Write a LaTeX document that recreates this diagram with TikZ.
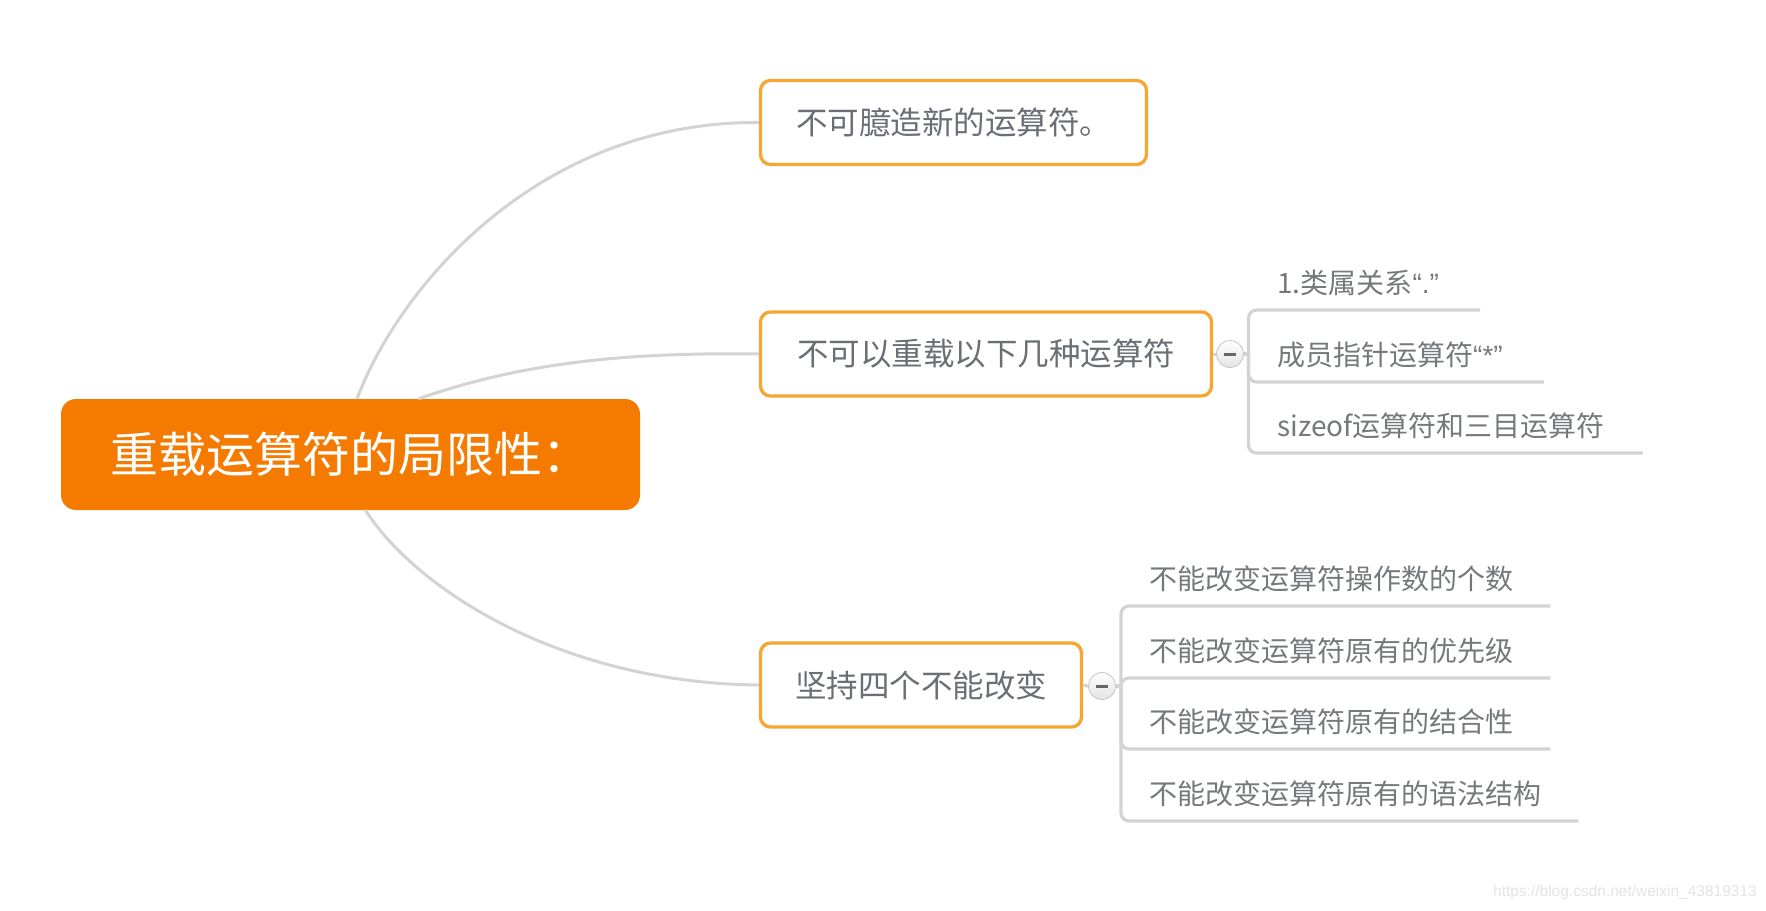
\documentclass[tikz,border=0pt]{standalone}
\usepackage{fontspec}
\newfontfamily\cjk{Noto Sans CJK SC}
\newfontfamily\wmfont{Liberation Sans}
\definecolor{rootorange}{HTML}{F47A00}
\definecolor{boxorange}{HTML}{F5A633}
\definecolor{maintext}{HTML}{6B6F75}
\definecolor{subtext}{HTML}{76797C}
\definecolor{linegray}{HTML}{D1D3D4}
\definecolor{wmgray}{HTML}{E4E4E4}
\begin{document}
\begin{tikzpicture}[x=1pt,y=-1pt,
  rootbox/.style={fill=rootorange, rounded corners=15pt, minimum width=579pt, minimum height=111pt, inner sep=0pt, text=white, font=\cjk\fontsize{48}{52}\selectfont},
  topicbox/.style={draw=boxorange, line width=3.3pt, rounded corners=10pt, fill=white, minimum height=84pt, inner sep=0pt, text=maintext, font=\cjk\fontsize{31.5}{36}\selectfont},
  subitem/.style={anchor=west, inner sep=0pt, text=subtext, font=\cjk\fontsize{28}{32}\selectfont},
  link/.style={draw=linegray, line width=3pt},
  branch/.style={draw=linegray, line width=3.2pt, rounded corners=8pt},
  collapse/.style={circle, draw=gray!45, line width=0.8pt, top color=white, bottom color=gray!22, minimum size=27pt, inner sep=0pt},
  minusbar/.style={draw=black!60, line width=3pt},
]
\useasboundingbox (0,0) rectangle (1766,910);
\fill[white] (0,0) rectangle (1766,910);

% main nodes
\node[rootbox] (root) at (350.5,454.5) {重载运算符的局限性：};
\node[topicbox, minimum width=386pt] (n1) at (953.5,122.5) {不可臆造新的运算符。};
\node[topicbox, minimum width=451pt] (n2) at (986,354) {不可以重载以下几种运算符};
\node[topicbox, minimum width=321pt] (n3) at (921,685) {坚持四个不能改变};

% curves from root
\draw[link] ([xshift=6.5pt]root.north) .. controls (400,285) and (540,121) .. (n1.west);
\draw[link] ([xshift=68pt]root.north) .. controls (518,364) and (620,352) .. (n2.west);
\draw[link] ([xshift=15pt]root.south) .. controls (415,588) and (560,683) .. (n3.west);

% node 2 children
\node[collapse] (c2) at (1230,354) {};
\draw[minusbar] ([xshift=-6pt]c2.center) -- ([xshift=6pt]c2.center);
\draw[link] (n2.east) -- (c2.west);
\coordinate (k2) at (1248.5,354);
\draw[branch] (c2.east) -- (k2);
\node[subitem] (a1) at (1277,282.5) {1.类属关系{\wmfont“.”}};
\node[subitem] (a2) at (1277,354.5) {成员指针运算符{\wmfont“*”}};
\node[subitem] (a3) at (1277,425.5) {sizeof运算符和三目运算符};
\draw[branch] (k2) |- ([shift={(41pt,-27.5pt)}]a1.east);
\draw[branch] (k2) |- ([shift={(41pt,-27.5pt)}]a2.east);
\draw[branch] (k2) |- ([shift={(38pt,-27.5pt)}]a3.east);

% node 3 children
\node[collapse] (c3) at (1102,686) {};
\draw[minusbar] ([xshift=-6pt]c3.center) -- ([xshift=6pt]c3.center);
\draw[link] (n3.east) -- (c3.west);
\coordinate (k3) at (1121,686);
\draw[branch] (c3.east) -- (k3);
\node[subitem] (b1) at (1149,578.5) {不能改变运算符操作数的个数};
\node[subitem] (b2) at (1149,650.5) {不能改变运算符原有的优先级};
\node[subitem] (b3) at (1149,721.5) {不能改变运算符原有的结合性};
\node[subitem] (b4) at (1149,793.5) {不能改变运算符原有的语法结构};
\draw[branch] (k3) |- ([shift={(37pt,-27.5pt)}]b1.east);
\draw[branch] (k3) |- ([shift={(37pt,-27.5pt)}]b2.east);
\draw[branch] (k3) |- ([shift={(37pt,-27.5pt)}]b3.east);
\draw[branch] (k3) |- ([shift={(37pt,-27.5pt)}]b4.east);

% watermark
\node[anchor=east, inner sep=0pt, text=wmgray, font=\wmfont\fontsize{15.5}{18}\selectfont] (wm) at (1757,892) {https://blog.csdn.net/weixin\_43819313};
\end{tikzpicture}
\end{document}
